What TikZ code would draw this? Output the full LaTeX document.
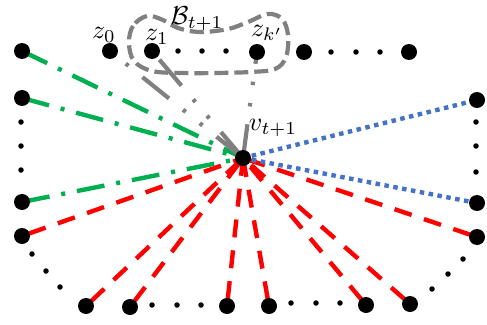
\documentclass[tikz,border=0pt]{standalone}
\usepackage{graphicx}
\usepackage{amsmath}
\definecolor{gGreen}{RGB}{0,176,80}
\definecolor{gRed}{RGB}{255,0,0}
\definecolor{gBlue}{RGB}{68,114,196}
\definecolor{gGray}{RGB}{128,128,128}
\newcommand{\biglab}[1]{\scalebox{2.6}{$#1$}}
\begin{document}
\begin{tikzpicture}[x=1pt,y=-1pt,
  big/.style={circle,fill=black,inner sep=0pt,minimum size=16pt},
  small/.style={circle,fill=black,inner sep=0pt,minimum size=5.5pt},
  lab/.style={inner sep=0pt},
  greenline/.style={gGreen,line width=4.4pt,dash pattern=on 28pt off 12pt on 4pt off 12pt},
  redline/.style={gRed,line width=4.4pt,dash pattern=on 18pt off 13pt,dash phase=24pt},
  blueline/.style={gBlue,line width=4.4pt,dash pattern=on 4.5pt off 4.5pt},
  grayline/.style={gGray,line width=4.2pt,dash pattern=on 34pt off 18pt on 3.5pt off 18pt on 3.5pt off 18pt},
  blob/.style={gGray,line width=4.2pt,dash pattern=on 14pt off 6pt}
]
\useasboundingbox (0,0) rectangle (487,324);
% centre
\coordinate (vc) at (243,158);
% top row
\coordinate (ptl) at (22,51);
\coordinate (pz0) at (110,51);
\coordinate (pz1) at (152,51);
\coordinate (pzk) at (257,52);
\coordinate (pt2) at (304,52);
\coordinate (pt3) at (409,52);
% left
\coordinate (pl1) at (22,98);
\coordinate (pl2) at (22,202);
\coordinate (pl3) at (22,236);
% bottom
\coordinate (pb1) at (86,306);
\coordinate (pb2) at (130,307);
\coordinate (pb3) at (227,306);
\coordinate (pb4) at (269,306);
\coordinate (pb5) at (366,305);
\coordinate (pb6) at (410,304);
% right
\coordinate (pr1) at (477,100);
\coordinate (pr2) at (477,203);
\coordinate (pr3) at (477,237);

% blob B_{t+1}
\draw[blob] plot[smooth cycle,tension=0.6] coordinates {(147,16) (133,26) (129,43) (134,61) (152,71) (182,73) (215,73) (250,72) (275,69) (286,57) (288,35) (282,19) (268,14) (248,22) (228,29) (200,32) (178,28) (163,20)};

% green dash-dot lines
\draw[greenline] (ptl) -- (vc);
\draw[greenline] (pl1) -- (vc);
\draw[greenline] (pl2) -- (vc);
% red dashed lines
\foreach \n in {pl3,pb1,pb2,pb3,pb4,pb5,pb6,pr3}
  \draw[redline] (\n) -- (vc);
% blue dotted lines
\draw[blueline] (vc) -- (pr1);
\draw[blueline] (vc) -- (pr2);
% gray lines
\draw[grayline] (vc) -- (pz0);
\draw[grayline] (vc) -- (pz1);
\draw[grayline] (vc) -- (pzk);

% big nodes
\foreach \n in {ptl,pz0,pz1,pzk,pt2,pt3,pl1,pl2,pl3,pb1,pb2,pb3,pb4,pb5,pb6,pr1,pr2,pr3}
  \node[big] (\n-b) at (\n) {};
\node[big] (v) at (vc) {};

% small dots
\foreach \x/\y [count=\i] in {178/51,202/51,226/51,331/52,356/52,380/52,
  21/122,21/146,21/170,32/254,46/271,60/287,
  152/305,177/305,201/305,291/303,316/303,340/303,
  476/122,476/146,476/172,463/259,448/274,432/289}
  \node[small] (d\i) at (\x,\y) {};

% labels
\node[lab] (lz0) at (104,35) {\biglab{z_0}};
\node[lab] (lz1) at (157,37) {\biglab{z_1}};
\node[lab] (lzk) at (267,33) {\biglab{z_{k'}}};
\node[lab] (lb) at (197,19) {\biglab{\mathcal{B}_{t+1}}};
\node[lab] (lv) at (273,128) {\biglab{v_{t+1}}};
\end{tikzpicture}
\end{document}
